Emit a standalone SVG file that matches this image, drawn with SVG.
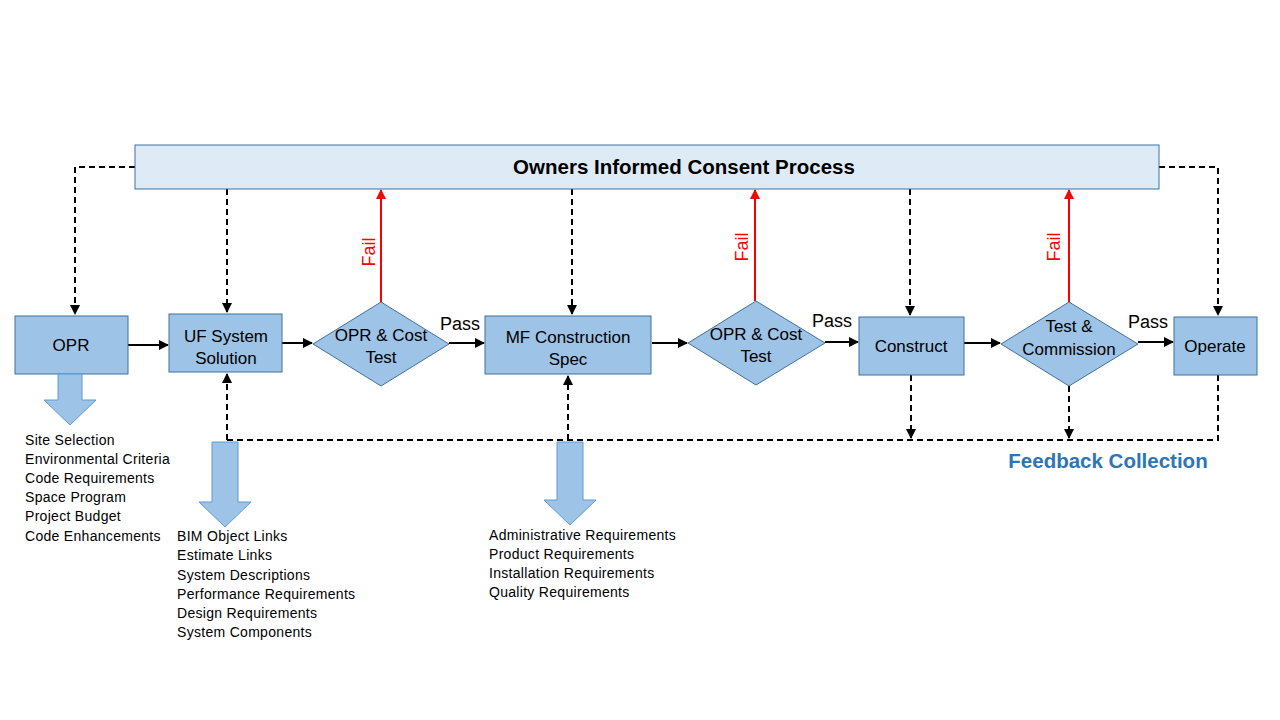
<svg xmlns="http://www.w3.org/2000/svg" width="1280" height="720" viewBox="0 0 1280 720">
<defs>
<style>
.box{fill:#9dc3e6;stroke:#41719c;stroke-width:1}
.bar{fill:#deebf7;stroke:#41719c;stroke-width:1}
.blk{fill:#9dc3e6;stroke:#5b9bd5;stroke-width:1}
.t{font-family:"Liberation Sans",Arial,sans-serif;fill:#000}
.n{font-size:17px;text-anchor:middle}
.lst{font-size:14px;letter-spacing:0.3px}
.solid{stroke:#000;stroke-width:2;fill:none;marker-end:url(#ah)}
.dash{stroke:#000;stroke-width:2;fill:none;stroke-dasharray:6 4}
.fail{stroke:#ff0000;stroke-width:2;fill:none;marker-end:url(#ahr)}
</style>
<marker id="ah" viewBox="0 0 10 10" refX="9" refY="5" markerWidth="5" markerHeight="5" orient="auto"><path d="M0,0L10,5L0,10z" fill="#000"/></marker>
<marker id="ahr" viewBox="0 0 10 10" refX="9" refY="5" markerWidth="5" markerHeight="5" orient="auto"><path d="M0,0L10,5L0,10z" fill="#ff0000"/></marker>
</defs>
<rect width="1280" height="720" fill="#fff"/>

<g id="connectors">
<line class="solid" x1="128" y1="345" x2="168" y2="345"/>
<line class="solid" x1="282" y1="343" x2="312" y2="343"/>
<line class="solid" x1="449" y1="343" x2="484" y2="343"/>
<line class="solid" x1="652" y1="343" x2="687" y2="343"/>
<line class="solid" x1="825" y1="342" x2="858" y2="342"/>
<line class="solid" x1="964" y1="343" x2="1000" y2="343"/>
<line class="solid" x1="1138" y1="342" x2="1173" y2="342"/>
<line class="fail" x1="381" y1="302" x2="381" y2="190"/>
<line class="fail" x1="755" y1="301" x2="755" y2="190"/>
<line class="fail" x1="1069" y1="302" x2="1069" y2="190"/>
<path class="dash" d="M135,167H75V314" marker-end="url(#ah)"/>
<path class="dash" d="M227,189V312" marker-end="url(#ah)"/>
<path class="dash" d="M572,189V314" marker-end="url(#ah)"/>
<path class="dash" d="M910,189V315" marker-end="url(#ah)"/>
<path class="dash" d="M1159,167H1218V315" marker-end="url(#ah)"/>
<path class="dash" d="M227,440H1218V375"/>
<path class="dash" d="M227,440V374" marker-end="url(#ah)"/>
<path class="dash" d="M568,440V376" marker-end="url(#ah)"/>
<path class="dash" d="M911,375V438" marker-end="url(#ah)"/>
<path class="dash" d="M1069,386V438" marker-end="url(#ah)"/>
</g>

<g id="consent">
<rect class="bar" x="135" y="145" width="1024" height="44"/>
<text class="t" x="684" y="174" font-size="20.5" font-weight="bold" text-anchor="middle">Owners Informed Consent Process</text>
</g>

<g id="opr">
<rect class="box" x="15" y="316" width="113" height="58"/>
<text class="t n" x="71" y="351">OPR</text>
</g>
<g id="uf">
<rect class="box" x="169" y="314" width="113" height="58"/>
<text class="t n" x="226" y="342">UF System</text>
<text class="t n" x="226" y="364">Solution</text>
</g>
<g id="test1">
<polygon class="box" points="381,302 449,344 381,386 313,344"/>
<text class="t n" x="381" y="341">OPR &amp; Cost</text>
<text class="t n" x="381" y="363">Test</text>
</g>
<g id="mf">
<rect class="box" x="485" y="316" width="166" height="58"/>
<text class="t n" x="568" y="343">MF Construction</text>
<text class="t n" x="568" y="365">Spec</text>
</g>
<g id="test2">
<polygon class="box" points="756,301 825,343 756,385 688,343"/>
<text class="t n" x="756" y="340">OPR &amp; Cost</text>
<text class="t n" x="756" y="362">Test</text>
</g>
<g id="construct">
<rect class="box" x="859" y="317" width="105" height="58"/>
<text class="t n" x="911" y="352">Construct</text>
</g>
<g id="test3">
<polygon class="box" points="1069,302 1138,344 1069,386 1001,344"/>
<text class="t n" x="1069" y="332">Test &amp;</text>
<text class="t n" x="1069" y="355">Commission</text>
</g>
<g id="operate">
<rect class="box" x="1174" y="317" width="83" height="58"/>
<text class="t n" x="1215" y="352">Operate</text>
</g>

<g id="labels">
<text class="t" x="460" y="330" font-size="18" text-anchor="middle">Pass</text>
<text class="t" x="832" y="327" font-size="18" text-anchor="middle">Pass</text>
<text class="t" x="1148" y="328" font-size="18" text-anchor="middle">Pass</text>
<text class="t" font-size="18" fill="#ff0000" style="fill:#ff0000" text-anchor="middle" transform="translate(375,252) rotate(-90)">Fail</text>
<text class="t" font-size="18" fill="#ff0000" style="fill:#ff0000" text-anchor="middle" transform="translate(748,247) rotate(-90)">Fail</text>
<text class="t" font-size="18" fill="#ff0000" style="fill:#ff0000" text-anchor="middle" transform="translate(1060,247) rotate(-90)">Fail</text>
<text class="t" x="1108" y="468" font-size="20.5" font-weight="bold" text-anchor="middle" style="fill:#2e75b6">Feedback Collection</text>
</g>

<g id="opr-out">
<polygon class="blk" points="58,374 82,374 82,400 96,400 70,425 44,400 58,400"/>
<text class="t lst" x="25" y="445">Site Selection</text>
<text class="t lst" x="25" y="464">Environmental Criteria</text>
<text class="t lst" x="25" y="483">Code Requirements</text>
<text class="t lst" x="25" y="502">Space Program</text>
<text class="t lst" x="25" y="521">Project Budget</text>
<text class="t lst" x="25" y="541">Code Enhancements</text>
</g>
<g id="uf-out">
<polygon class="blk" points="212,442 238,442 238,502 251,502 225,527 199,502 212,502"/>
<text class="t lst" x="177" y="541">BIM Object Links</text>
<text class="t lst" x="177" y="560">Estimate Links</text>
<text class="t lst" x="177" y="580">System Descriptions</text>
<text class="t lst" x="177" y="599">Performance Requirements</text>
<text class="t lst" x="177" y="618">Design Requirements</text>
<text class="t lst" x="177" y="637">System Components</text>
</g>
<g id="mf-out">
<polygon class="blk" points="557,442 583,442 583,500 596,500 570,525 544,500 557,500"/>
<text class="t lst" x="489" y="540">Administrative Requirements</text>
<text class="t lst" x="489" y="559">Product  Requirements</text>
<text class="t lst" x="489" y="578">Installation Requirements</text>
<text class="t lst" x="489" y="597">Quality Requirements</text>
</g>
</svg>
